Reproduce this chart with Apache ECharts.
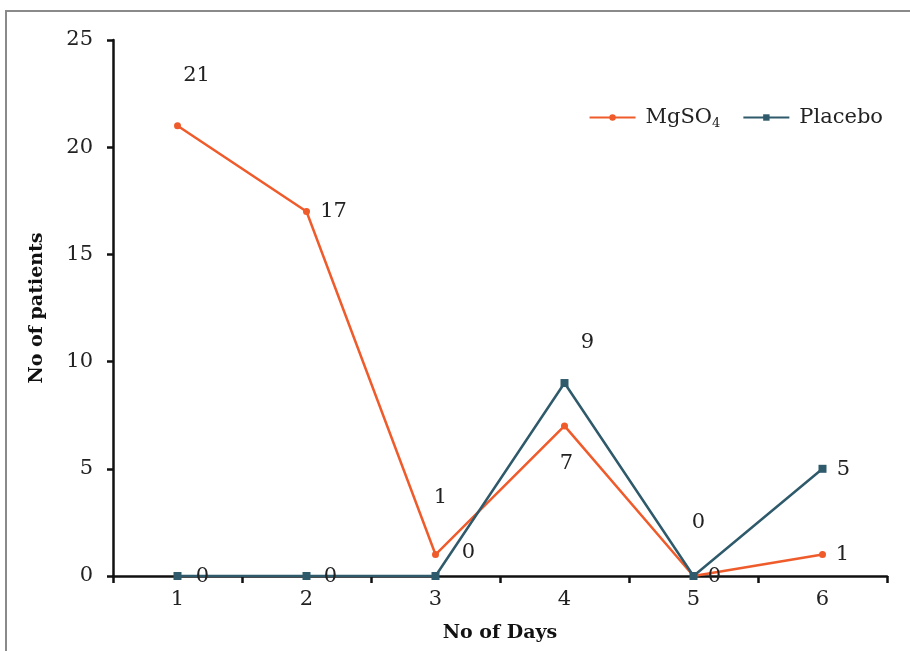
<!DOCTYPE html>
<html><head><meta charset="utf-8">
<script src="https://cdn.jsdelivr.net/npm/echarts@6/dist/echarts.min.js"></script>
<style>html,body{margin:0;padding:0;background:#fff;}#c{width:910px;height:651px;}
#frame{position:absolute;left:5px;top:10px;width:920px;height:660px;border:2px solid #8a8a8a;box-sizing:border-box;pointer-events:none;}</style>
</head><body><div id="c"></div><div id="frame"></div>
<script>
const days = ['1','2','3','4','5','6'];
const mgso4 = [21, 17, 1, 7, 0, 1];
const placebo = [0, 0, 0, 9, 0, 5];
const yTicks = [0, 5, 10, 15, 20, 25];
// label offsets (style only)
const mgOffsets = [[19,-50],[27,0],[5,-57],[2,38],[21,1],[20,0]];
const plOffsets = [[25,1],[24,1],[33,-23],[23,-40],[5,-53],[21,1]];
const ORANGE = '#EF5B2B', TEAL = '#2F5A6B';
const FONT = 'DejaVu Serif';
const chart = echarts.init(document.getElementById('c'));
function mk(vals, offs){
  return vals.map((v,i)=>({value:v,label:{offset:offs[i]}}));
}
chart.setOption({
  animation:false,
  textStyle:{fontFamily:FONT},
  grid:{left:113,right:23,top:40,bottom:75,containLabel:false},
  legend:{
    top:102,right:22,itemWidth:46,itemHeight:8,itemGap:22,
    textStyle:{fontFamily:FONT,fontSize:21,color:'#222',padding:[0,0,0,5],
      rich:{sub:{fontSize:13,verticalAlign:'bottom',padding:[12,0,0,0],fontFamily:FONT,color:'#222'}}},
    formatter:function(n){return n==='MgSO4'?'MgSO{sub|4}':n;},
    data:['MgSO4','Placebo']
  },
  xAxis:{
    type:'category',data:days,boundaryGap:true,
    name:'No of Days',nameLocation:'middle',nameGap:48,
    nameTextStyle:{fontFamily:FONT,fontSize:19,fontWeight:'bold',color:'#111'},
    axisLine:{lineStyle:{color:'#111',width:2.5}},
    axisTick:{show:true,inside:false,length:7,lineStyle:{color:'#111',width:2.5}},
    axisLabel:{fontFamily:FONT,fontSize:21,color:'#222',margin:13}
  },
  yAxis:{
    type:'value',min:0,max:25,interval:5,
    name:'No of patients',nameLocation:'middle',nameGap:66,nameRotate:90,
    nameTextStyle:{fontFamily:FONT,fontSize:19,fontWeight:'bold',color:'#111'},
    axisLine:{show:true,lineStyle:{color:'#111',width:2.5}},
    axisTick:{show:true,length:6,lineStyle:{color:'#111',width:2.5}},
    splitLine:{show:false},
    axisLabel:{fontFamily:FONT,fontSize:21,color:'#222',margin:20,
      formatter:function(v){return yTicks.indexOf(v)>=0?String(v):'';}}
  },
  series:[
    {name:'MgSO4',type:'line',data:mk(mgso4,mgOffsets),
     symbol:'circle',symbolSize:7,lineStyle:{color:ORANGE,width:2.5},itemStyle:{color:ORANGE},
     label:{show:true,position:'inside',fontFamily:FONT,fontSize:21,color:'#222'}},
    {name:'Placebo',type:'line',data:mk(placebo,plOffsets),
     symbol:'rect',symbolSize:8,lineStyle:{color:TEAL,width:2.5},itemStyle:{color:TEAL},
     label:{show:true,position:'inside',fontFamily:FONT,fontSize:21,color:'#222'}}
  ]
});
</script></body></html>
